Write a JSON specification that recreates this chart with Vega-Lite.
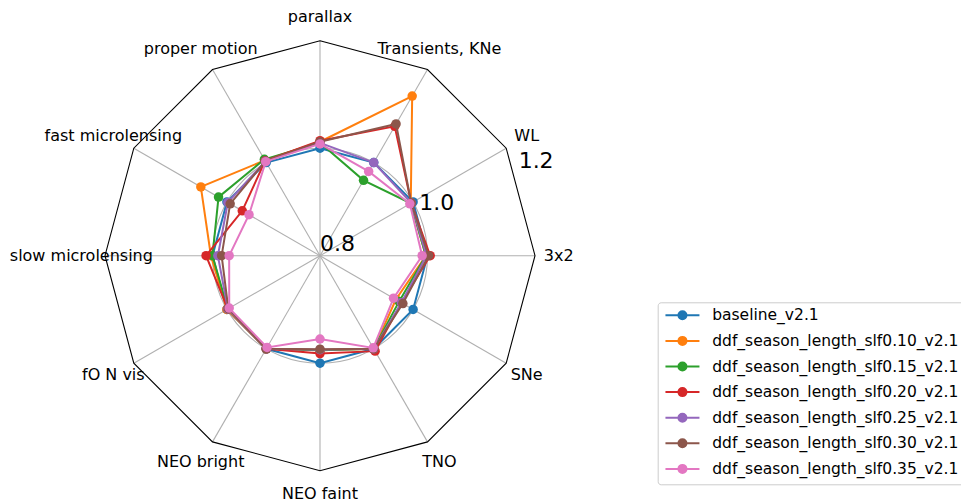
{
  "$schema": "https://vega.github.io/schema/vega-lite/v6.json",
  "width": 961,
  "height": 500,
  "autosize": "none",
  "padding": 0,
  "background": "white",
  "config": {
    "view": {"stroke": null},
    "font": "DejaVu Sans",
    "legend": {
      "orient": "none",
      "legendX": 657.7,
      "legendY": 302.3,
      "title": null,
      "padding": 6,
      "strokeColor": "#cccccc",
      "fillColor": "white",
      "cornerRadius": 3,
      "labelFont": "DejaVu Sans",
      "labelFontSize": 15.5,
      "labelColor": "black",
      "labelLimit": 0,
      "symbolType": "M-3.4,0L3.4,0M0.8,0A0.8,0.8,0,1,1,-0.8,0A0.8,0.8,0,1,1,0.8,0Z",
      "symbolSize": 100,
      "symbolStrokeWidth": 2,
      "symbolOffset": 11,
      "labelOffset": 22,
      "clipHeight": 14,
      "rowPadding": 9.6
    }
  },
  "datasets": {
    "axes": [
      {"metric": "parallax", "idx": 0},
      {"metric": "Transients, KNe", "idx": 1},
      {"metric": "WL", "idx": 2},
      {"metric": "3x2", "idx": 3},
      {"metric": "SNe", "idx": 4},
      {"metric": "TNO", "idx": 5},
      {"metric": "NEO faint", "idx": 6},
      {"metric": "NEO bright", "idx": 7},
      {"metric": "fO N vis", "idx": 8},
      {"metric": "slow microlensing", "idx": 9},
      {"metric": "fast microlensing", "idx": 10},
      {"metric": "proper motion", "idx": 11}
    ],
    "runs": [
      {"run": "baseline_v2.1", "metric": "parallax", "value": 1.0},
      {"run": "baseline_v2.1", "metric": "Transients, KNe", "value": 1.0},
      {"run": "baseline_v2.1", "metric": "WL", "value": 1.0},
      {"run": "baseline_v2.1", "metric": "3x2", "value": 1.0},
      {"run": "baseline_v2.1", "metric": "SNe", "value": 1.0},
      {"run": "baseline_v2.1", "metric": "TNO", "value": 1.0},
      {"run": "baseline_v2.1", "metric": "NEO faint", "value": 1.0},
      {"run": "baseline_v2.1", "metric": "NEO bright", "value": 1.0},
      {"run": "baseline_v2.1", "metric": "fO N vis", "value": 1.0},
      {"run": "baseline_v2.1", "metric": "slow microlensing", "value": 1.0},
      {"run": "baseline_v2.1", "metric": "fast microlensing", "value": 1.0},
      {"run": "baseline_v2.1", "metric": "proper motion", "value": 1.0},

      {"run": "ddf_season_length_slf0.10_v2.1", "metric": "parallax", "value": 1.012},
      {"run": "ddf_season_length_slf0.10_v2.1", "metric": "Transients, KNe", "value": 1.143},
      {"run": "ddf_season_length_slf0.10_v2.1", "metric": "WL", "value": 0.995},
      {"run": "ddf_season_length_slf0.10_v2.1", "metric": "3x2", "value": 0.997},
      {"run": "ddf_season_length_slf0.10_v2.1", "metric": "SNe", "value": 0.963},
      {"run": "ddf_season_length_slf0.10_v2.1", "metric": "TNO", "value": 1.0},
      {"run": "ddf_season_length_slf0.10_v2.1", "metric": "NEO faint", "value": 0.976},
      {"run": "ddf_season_length_slf0.10_v2.1", "metric": "NEO bright", "value": 1.0},
      {"run": "ddf_season_length_slf0.10_v2.1", "metric": "fO N vis", "value": 1.0},
      {"run": "ddf_season_length_slf0.10_v2.1", "metric": "slow microlensing", "value": 1.003},
      {"run": "ddf_season_length_slf0.10_v2.1", "metric": "fast microlensing", "value": 1.056},
      {"run": "ddf_season_length_slf0.10_v2.1", "metric": "proper motion", "value": 1.005},

      {"run": "ddf_season_length_slf0.15_v2.1", "metric": "parallax", "value": 1.01},
      {"run": "ddf_season_length_slf0.15_v2.1", "metric": "Transients, KNe", "value": 0.962},
      {"run": "ddf_season_length_slf0.15_v2.1", "metric": "WL", "value": 0.995},
      {"run": "ddf_season_length_slf0.15_v2.1", "metric": "3x2", "value": 0.997},
      {"run": "ddf_season_length_slf0.15_v2.1", "metric": "SNe", "value": 0.97},
      {"run": "ddf_season_length_slf0.15_v2.1", "metric": "TNO", "value": 1.0},
      {"run": "ddf_season_length_slf0.15_v2.1", "metric": "NEO faint", "value": 0.976},
      {"run": "ddf_season_length_slf0.15_v2.1", "metric": "NEO bright", "value": 1.0},
      {"run": "ddf_season_length_slf0.15_v2.1", "metric": "fO N vis", "value": 0.998},
      {"run": "ddf_season_length_slf0.15_v2.1", "metric": "slow microlensing", "value": 1.0},
      {"run": "ddf_season_length_slf0.15_v2.1", "metric": "fast microlensing", "value": 1.018},
      {"run": "ddf_season_length_slf0.15_v2.1", "metric": "proper motion", "value": 1.007},

      {"run": "ddf_season_length_slf0.20_v2.1", "metric": "parallax", "value": 1.014},
      {"run": "ddf_season_length_slf0.20_v2.1", "metric": "Transients, KNe", "value": 1.078},
      {"run": "ddf_season_length_slf0.20_v2.1", "metric": "WL", "value": 0.996},
      {"run": "ddf_season_length_slf0.20_v2.1", "metric": "3x2", "value": 1.005},
      {"run": "ddf_season_length_slf0.20_v2.1", "metric": "SNe", "value": 0.975},
      {"run": "ddf_season_length_slf0.20_v2.1", "metric": "TNO", "value": 1.005},
      {"run": "ddf_season_length_slf0.20_v2.1", "metric": "NEO faint", "value": 0.982},
      {"run": "ddf_season_length_slf0.20_v2.1", "metric": "NEO bright", "value": 1.0},
      {"run": "ddf_season_length_slf0.20_v2.1", "metric": "fO N vis", "value": 0.998},
      {"run": "ddf_season_length_slf0.20_v2.1", "metric": "slow microlensing", "value": 1.012},
      {"run": "ddf_season_length_slf0.20_v2.1", "metric": "fast microlensing", "value": 0.967},
      {"run": "ddf_season_length_slf0.20_v2.1", "metric": "proper motion", "value": 1.004},

      {"run": "ddf_season_length_slf0.25_v2.1", "metric": "parallax", "value": 1.01},
      {"run": "ddf_season_length_slf0.25_v2.1", "metric": "Transients, KNe", "value": 1.0},
      {"run": "ddf_season_length_slf0.25_v2.1", "metric": "WL", "value": 0.996},
      {"run": "ddf_season_length_slf0.25_v2.1", "metric": "3x2", "value": 0.998},
      {"run": "ddf_season_length_slf0.25_v2.1", "metric": "SNe", "value": 0.975},
      {"run": "ddf_season_length_slf0.25_v2.1", "metric": "TNO", "value": 1.0},
      {"run": "ddf_season_length_slf0.25_v2.1", "metric": "NEO faint", "value": 0.975},
      {"run": "ddf_season_length_slf0.25_v2.1", "metric": "NEO bright", "value": 1.0},
      {"run": "ddf_season_length_slf0.25_v2.1", "metric": "fO N vis", "value": 0.998},
      {"run": "ddf_season_length_slf0.25_v2.1", "metric": "slow microlensing", "value": 0.99},
      {"run": "ddf_season_length_slf0.25_v2.1", "metric": "fast microlensing", "value": 0.998},
      {"run": "ddf_season_length_slf0.25_v2.1", "metric": "proper motion", "value": 1.003},

      {"run": "ddf_season_length_slf0.30_v2.1", "metric": "parallax", "value": 1.012},
      {"run": "ddf_season_length_slf0.30_v2.1", "metric": "Transients, KNe", "value": 1.083},
      {"run": "ddf_season_length_slf0.30_v2.1", "metric": "WL", "value": 0.996},
      {"run": "ddf_season_length_slf0.30_v2.1", "metric": "3x2", "value": 1.002},
      {"run": "ddf_season_length_slf0.30_v2.1", "metric": "SNe", "value": 0.978},
      {"run": "ddf_season_length_slf0.30_v2.1", "metric": "TNO", "value": 1.0},
      {"run": "ddf_season_length_slf0.30_v2.1", "metric": "NEO faint", "value": 0.974},
      {"run": "ddf_season_length_slf0.30_v2.1", "metric": "NEO bright", "value": 1.0},
      {"run": "ddf_season_length_slf0.30_v2.1", "metric": "fO N vis", "value": 0.997},
      {"run": "ddf_season_length_slf0.30_v2.1", "metric": "slow microlensing", "value": 0.983},
      {"run": "ddf_season_length_slf0.30_v2.1", "metric": "fast microlensing", "value": 0.993},
      {"run": "ddf_season_length_slf0.30_v2.1", "metric": "proper motion", "value": 1.003},

      {"run": "ddf_season_length_slf0.35_v2.1", "metric": "parallax", "value": 1.008},
      {"run": "ddf_season_length_slf0.35_v2.1", "metric": "Transients, KNe", "value": 0.981},
      {"run": "ddf_season_length_slf0.35_v2.1", "metric": "WL", "value": 0.993},
      {"run": "ddf_season_length_slf0.35_v2.1", "metric": "3x2", "value": 0.99},
      {"run": "ddf_season_length_slf0.35_v2.1", "metric": "SNe", "value": 0.958},
      {"run": "ddf_season_length_slf0.35_v2.1", "metric": "TNO", "value": 0.998},
      {"run": "ddf_season_length_slf0.35_v2.1", "metric": "NEO faint", "value": 0.955},
      {"run": "ddf_season_length_slf0.35_v2.1", "metric": "NEO bright", "value": 0.997},
      {"run": "ddf_season_length_slf0.35_v2.1", "metric": "fO N vis", "value": 0.995},
      {"run": "ddf_season_length_slf0.35_v2.1", "metric": "slow microlensing", "value": 0.969},
      {"run": "ddf_season_length_slf0.35_v2.1", "metric": "fast microlensing", "value": 0.9525},
      {"run": "ddf_season_length_slf0.35_v2.1", "metric": "proper motion", "value": 1.002}
    ],
    "rticks": [
      {"tick": "0.8", "r": 0.8},
      {"tick": "1.0", "r": 1.0},
      {"tick": "1.2", "r": 1.2}
    ],
    "rings": [
      {"r": 1.0}
    ]
  },
  "layer": [
    {
      "data": {"name": "axes"},
      "transform": [
        {"calculate": "datum.idx * PI / 6", "as": "th"},
        {"calculate": "0", "as": "ox"},
        {"calculate": "0", "as": "oy"},
        {"calculate": "0.4 * sin(datum.th)", "as": "ex"},
        {"calculate": "0.4 * cos(datum.th)", "as": "ey"}
      ],
      "mark": {"type": "rule", "color": "#b0b0b0", "strokeWidth": 1.1},
      "encoding": {
        "x": {"field": "ox", "type": "quantitative", "scale": {"domain": [-0.595349, 1.192558], "nice": false, "zero": false}, "axis": null},
        "y": {"field": "oy", "type": "quantitative", "scale": {"domain": [-0.454512, 0.475721], "nice": false, "zero": false}, "axis": null},
        "x2": {"field": "ex"},
        "y2": {"field": "ey"}
      }
    },
    {
      "data": {"name": "rings"},
      "transform": [
        {"calculate": "0", "as": "ox"},
        {"calculate": "0", "as": "oy"}
      ],
      "mark": {"type": "point", "shape": "circle", "filled": false, "stroke": "#b0b0b0", "strokeWidth": 1.1, "size": 46225, "opacity": 1},
      "encoding": {
        "x": {"field": "ox", "type": "quantitative"},
        "y": {"field": "oy", "type": "quantitative"}
      }
    },
    {
      "data": {"name": "axes"},
      "transform": [
        {"calculate": "datum.idx * PI / 6", "as": "th"},
        {"calculate": "0.4 * sin(datum.th)", "as": "px"},
        {"calculate": "0.4 * cos(datum.th)", "as": "py"}
      ],
      "mark": {"type": "line", "interpolate": "linear-closed", "color": "black", "strokeWidth": 1.1},
      "encoding": {
        "x": {"field": "px", "type": "quantitative"},
        "y": {"field": "py", "type": "quantitative"},
        "order": {"field": "idx", "type": "quantitative"}
      }
    },
    {
      "data": {"name": "runs"},
      "transform": [
        {"lookup": "metric", "from": {"data": {"name": "axes"}, "key": "metric", "fields": ["idx"]}},
        {"calculate": "datum.idx * PI / 6", "as": "th"},
        {"calculate": "(datum.value - 0.8) * sin(datum.th)", "as": "px"},
        {"calculate": "(datum.value - 0.8) * cos(datum.th)", "as": "py"}
      ],
      "encoding": {
        "x": {"field": "px", "type": "quantitative"},
        "y": {"field": "py", "type": "quantitative"},
        "order": {"field": "idx", "type": "quantitative"},
        "color": {
          "field": "run",
          "type": "nominal",
          "scale": {
            "domain": ["baseline_v2.1", "ddf_season_length_slf0.10_v2.1", "ddf_season_length_slf0.15_v2.1", "ddf_season_length_slf0.20_v2.1", "ddf_season_length_slf0.25_v2.1", "ddf_season_length_slf0.30_v2.1", "ddf_season_length_slf0.35_v2.1"],
            "range": ["#1f77b4", "#ff7f0e", "#2ca02c", "#d62728", "#9467bd", "#8c564b", "#e377c2"]
          },
          "legend": {
            "encode": {
              "symbols": {
                "update": {
                  "fill": {"scale": "color", "field": "value"},
                  "stroke": {"scale": "color", "field": "value"},
                  "fillOpacity": {"value": 1},
                  "strokeOpacity": {"value": 1},
                  "opacity": {"value": 1}
                }
              }
            }
          }
        }
      },
      "layer": [
        {"transform": [{"filter": "datum.run === 'baseline_v2.1'"}], "layer": [
          {"mark": {"type": "line", "interpolate": "linear-closed", "strokeWidth": 2}},
          {"mark": {"type": "point", "filled": true, "size": 90, "opacity": 1}}
        ]},
        {"transform": [{"filter": "datum.run === 'ddf_season_length_slf0.10_v2.1'"}], "layer": [
          {"mark": {"type": "line", "interpolate": "linear-closed", "strokeWidth": 2}},
          {"mark": {"type": "point", "filled": true, "size": 90, "opacity": 1}}
        ]},
        {"transform": [{"filter": "datum.run === 'ddf_season_length_slf0.15_v2.1'"}], "layer": [
          {"mark": {"type": "line", "interpolate": "linear-closed", "strokeWidth": 2}},
          {"mark": {"type": "point", "filled": true, "size": 90, "opacity": 1}}
        ]},
        {"transform": [{"filter": "datum.run === 'ddf_season_length_slf0.20_v2.1'"}], "layer": [
          {"mark": {"type": "line", "interpolate": "linear-closed", "strokeWidth": 2}},
          {"mark": {"type": "point", "filled": true, "size": 90, "opacity": 1}}
        ]},
        {"transform": [{"filter": "datum.run === 'ddf_season_length_slf0.25_v2.1'"}], "layer": [
          {"mark": {"type": "line", "interpolate": "linear-closed", "strokeWidth": 2}},
          {"mark": {"type": "point", "filled": true, "size": 90, "opacity": 1}}
        ]},
        {"transform": [{"filter": "datum.run === 'ddf_season_length_slf0.30_v2.1'"}], "layer": [
          {"mark": {"type": "line", "interpolate": "linear-closed", "strokeWidth": 2}},
          {"mark": {"type": "point", "filled": true, "size": 90, "opacity": 1}}
        ]},
        {"transform": [{"filter": "datum.run === 'ddf_season_length_slf0.35_v2.1'"}], "layer": [
          {"mark": {"type": "line", "interpolate": "linear-closed", "strokeWidth": 2}},
          {"mark": {"type": "point", "filled": true, "size": 90, "opacity": 1}}
        ]}
      ]
    },
    {
      "data": {"name": "axes"},
      "transform": [
        {"calculate": "datum.idx * PI / 6", "as": "th"},
        {"calculate": "0.444 * sin(datum.th)", "as": "px"},
        {"calculate": "0.444 * cos(datum.th)", "as": "py"}
      ],
      "mark": {"type": "text", "font": "DejaVu Sans", "fontSize": 16, "color": "black", "align": "center", "baseline": "middle"},
      "encoding": {
        "x": {"field": "px", "type": "quantitative"},
        "y": {"field": "py", "type": "quantitative"},
        "text": {"field": "metric", "type": "nominal"}
      }
    },
    {
      "data": {"name": "rticks"},
      "transform": [
        {"calculate": "(datum.r - 0.8) * cos(PI / 8)", "as": "px"},
        {"calculate": "(datum.r - 0.8) * sin(PI / 8)", "as": "py"}
      ],
      "mark": {"type": "text", "font": "DejaVu Sans", "fontSize": 22, "color": "black", "align": "left", "baseline": "bottom"},
      "encoding": {
        "x": {"field": "px", "type": "quantitative"},
        "y": {"field": "py", "type": "quantitative"},
        "text": {"field": "tick", "type": "nominal"}
      }
    }
  ]
}
